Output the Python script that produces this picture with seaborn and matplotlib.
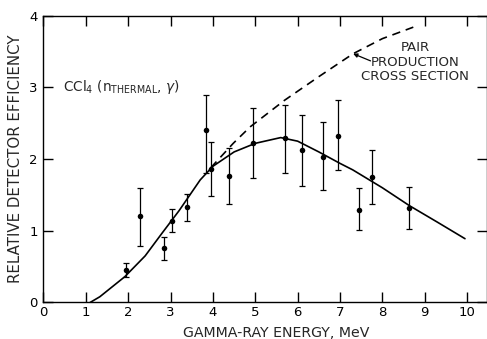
import numpy as np
import pandas as pd
import matplotlib
matplotlib.use("Agg")
import matplotlib.pyplot as plt
import seaborn as sns

# measured points
energy = [1.95, 2.29, 2.85, 3.04, 3.38, 3.83, 3.95, 4.39, 4.95, 5.69, 6.10, 6.59, 6.95, 7.45, 7.76, 8.64]
efficiency = [0.46, 1.20, 0.76, 1.14, 1.33, 2.41, 1.86, 1.77, 2.22, 2.30, 2.13, 2.03, 2.32, 1.29, 1.75, 1.32]
err_low = [0.36, 0.79, 0.59, 0.98, 1.13, 1.80, 1.48, 1.38, 1.73, 1.80, 1.62, 1.57, 1.85, 1.01, 1.37, 1.03]
err_high = [0.55, 1.59, 0.92, 1.30, 1.52, 2.89, 2.24, 2.16, 2.71, 2.76, 2.62, 2.52, 2.83, 1.59, 2.13, 1.61]

# fitted solid curve
fit_x = [1.1, 1.33, 1.92, 2.4, 2.79, 3.2, 3.7, 4.0, 4.5, 5.0, 5.6, 6.0, 6.5, 7.0, 7.3, 8.0, 8.64, 9.3, 9.95]
fit_y = [0.0, 0.08, 0.36, 0.65, 0.96, 1.28, 1.71, 1.9, 2.1, 2.22, 2.30, 2.25, 2.1, 1.94, 1.85, 1.6, 1.35, 1.12, 0.89]

# pair production cross section (dashed)
pair_x = [3.95, 4.48, 4.88, 5.69, 6.5, 7.31, 8.0, 8.73]
pair_y = [1.88, 2.22, 2.45, 2.82, 3.15, 3.47, 3.68, 3.84]

x_ticks = [0, 1, 2, 3, 4, 5, 6, 7, 8, 9, 10]
y_ticks = [0, 1, 2, 3, 4]

sns.set_style("ticks")
plt.rcParams['font.family'] = ['DejaVu Sans']

fig = plt.figure(figsize=(4.87, 3.39), dpi=100)
ax = fig.add_axes([0.0893, 0.1077, 0.9107, 0.846])

fit_df = pd.DataFrame({"x": fit_x, "y": fit_y})
pair_df = pd.DataFrame({"x": pair_x, "y": pair_y})
sns.lineplot(data=fit_df, x="x", y="y", ax=ax, color="black", lw=1.2, sort=False)
sns.lineplot(data=pair_df, x="x", y="y", ax=ax, color="black", lw=1.2, sort=False,
             dashes=False, linestyle=(0, (5, 3.5)))

e = np.array(efficiency)
yerr = np.vstack([e - np.array(err_low), np.array(err_high) - e])
ax.errorbar(energy, efficiency, yerr=yerr, fmt="none", ecolor="black", elinewidth=0.9,
            capsize=2.5, capthick=0.9)
pts = pd.DataFrame({"x": energy, "y": efficiency})
sns.scatterplot(data=pts, x="x", y="y", ax=ax, color="black", s=16, edgecolor="black", linewidth=0, zorder=5)

ax.set_xlim(0, 10.47)
ax.set_ylim(0, 4)
ax.set_xticks(x_ticks)
ax.set_yticks(y_ticks)
ax.set_xticklabels([str(t) for t in x_ticks], fontsize=9.5)
ax.set_yticklabels([str(t) for t in y_ticks], fontsize=9.5)
ax.tick_params(axis="both", direction="in", length=7, width=1.0, top=True, right=True,
               colors="black")
ax.tick_params(axis="x", pad=2.5)
ax.tick_params(axis="y", pad=4)
for s in ax.spines.values():
    s.set_linewidth(1.0)
    s.set_color("black")

ax.set_xlabel("GAMMA-RAY ENERGY, MeV", fontsize=10.2)
ax.set_ylabel("RELATIVE DETECTOR EFFICIENCY", fontsize=10.8)
ax.xaxis.set_label_coords(0.525, -0.082)
ax.yaxis.set_label_coords(-0.047, 0.5)

ax.text(0.47, 3.0, r"CCl$_4$ (n$_{\mathregular{THERMAL}}$, $\gamma$)", fontsize=9.8, va="center", ha="left")

ax.text(8.77, 3.35, "PAIR\nPRODUCTION\nCROSS SECTION", fontsize=9.5, ha="center", va="center",
        linespacing=1.15)
ax.annotate("", xy=(7.31, 3.47), xytext=(7.72, 3.37),
            arrowprops=dict(arrowstyle="-|>", color="black", lw=0.9,
                            shrinkA=0, shrinkB=0, mutation_scale=6))

fig.savefig("out.png", dpi=100)
